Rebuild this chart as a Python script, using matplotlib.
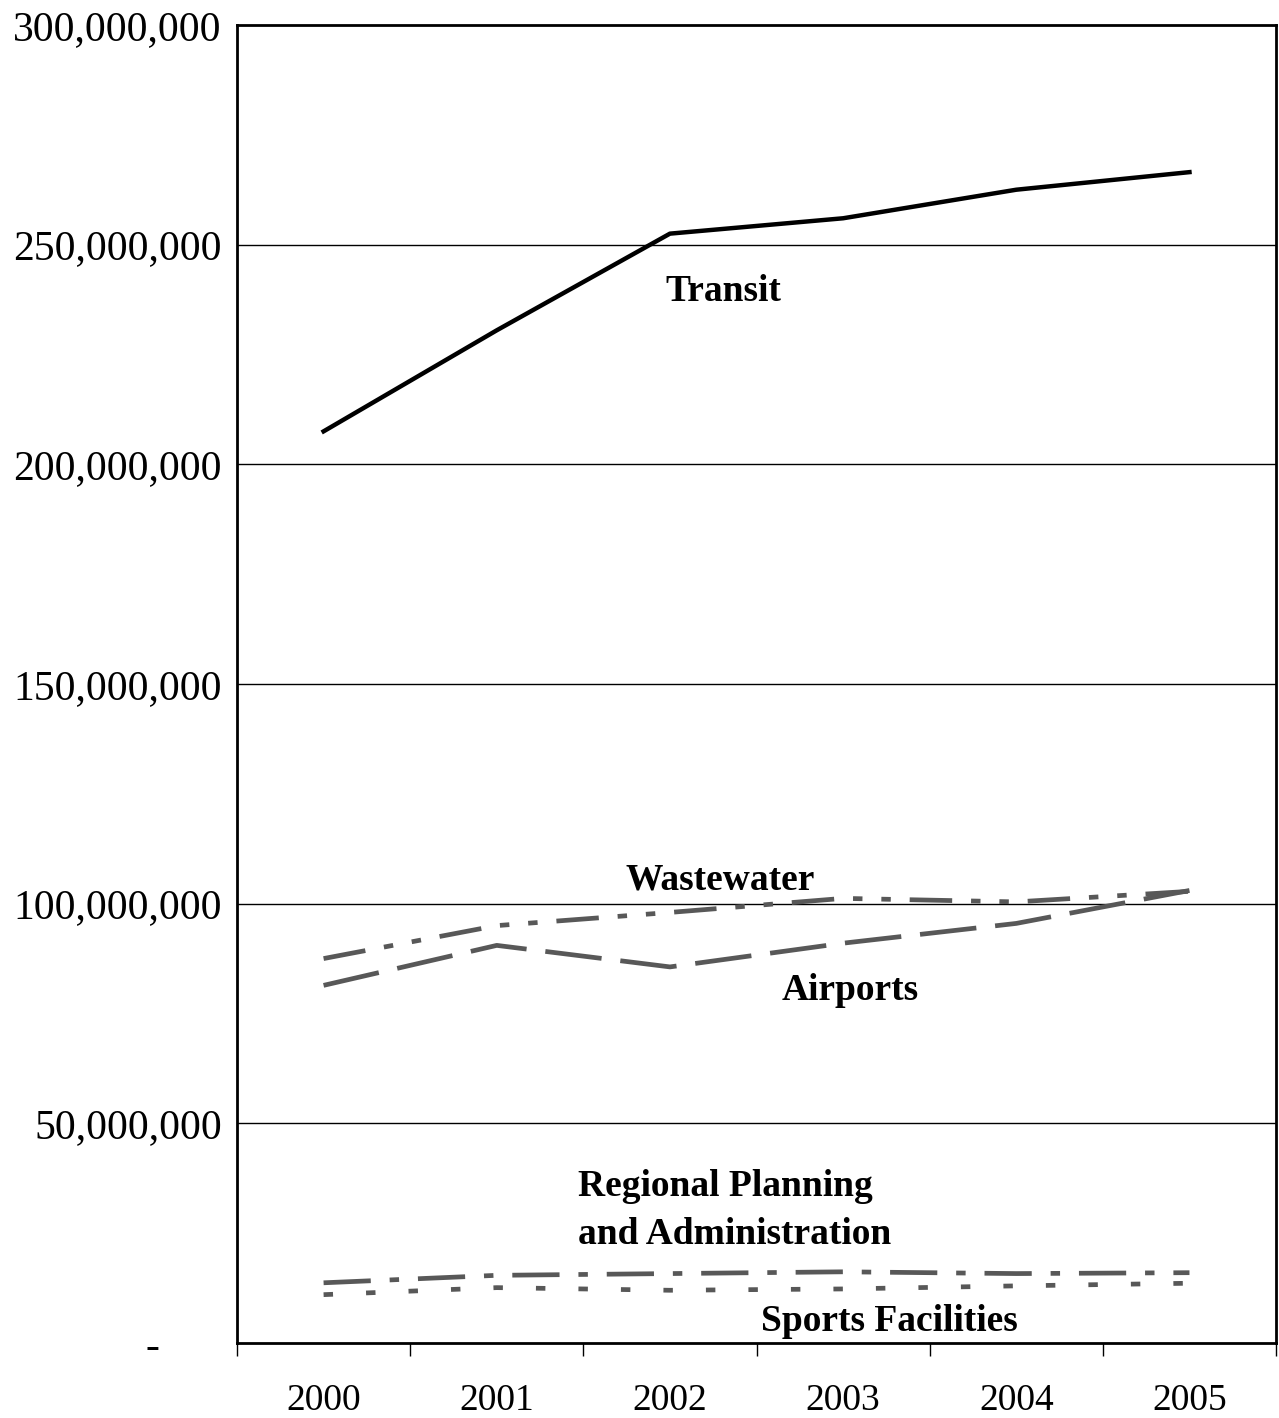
import matplotlib
matplotlib.use("Agg")
import matplotlib.pyplot as plt
from matplotlib.ticker import FixedLocator

years = ["2000", "2001", "2002", "2003", "2004", "2005"]
transit = [207.5e6, 230.5e6, 252.5e6, 256.0e6, 262.5e6, 266.5e6]
wastewater = [87.5e6, 95.0e6, 98.0e6, 101.2e6, 100.4e6, 102.8e6]
airports = [81.4e6, 90.5e6, 85.6e6, 91.0e6, 95.5e6, 103.0e6]
regional = [13.7e6, 15.4e6, 15.8e6, 16.2e6, 15.8e6, 16.0e6]
sports = [11.0e6, 12.6e6, 12.0e6, 12.3e6, 13.0e6, 13.6e6]

y_ticks = [0, 50e6, 100e6, 150e6, 200e6, 250e6, 300e6]
y_labels = ["-      ", "50,000,000", "100,000,000", "150,000,000",
            "200,000,000", "250,000,000", "300,000,000"]

plt.rcParams["font.family"] = ["Liberation Serif", "DejaVu Serif"]

fig = plt.figure(figsize=(12.79, 14.18), dpi=100)
ax = fig.add_axes([0.1853, 0.0529, 0.8124, 0.9295])

x = list(range(len(years)))
gray = "#585858"

ax.plot(x, transit, color="black", lw=3.2, solid_joinstyle="round", zorder=4)
ax.plot(x, wastewater, color=gray, lw=3.4, dashes=(9, 4, 2, 4, 2, 4), zorder=3)
ax.plot(x, airports, color=gray, lw=3.4, dashes=(12, 4), zorder=3)
ax.plot(x, regional, color=gray, lw=3.4, dashes=(10, 4, 2, 4), zorder=3)
ax.plot(x, sports, color=gray, lw=3.4, dashes=(2, 7), zorder=3)

ax.set_xlim(-0.5, 5.5)
ax.set_ylim(0, 300e6)

for v in y_ticks[1:-1]:
    ax.axhline(v, color="black", lw=1.0, zorder=1)

ax.yaxis.set_major_locator(FixedLocator(y_ticks))
ax.set_yticklabels(y_labels)
ax.tick_params(axis="y", length=0, pad=11, labelsize=30)

ax.xaxis.set_major_locator(FixedLocator([i - 0.5 for i in range(len(years) + 1)]))
ax.xaxis.set_minor_locator(FixedLocator(x))
ax.set_xticklabels([], minor=False)
ax.set_xticklabels(years, minor=True)
ax.tick_params(axis="x", which="major", length=9, width=1, direction="out")
ax.tick_params(axis="x", which="minor", length=0, pad=29, labelsize=27)

for s in ax.spines.values():
    s.set_linewidth(2)

label_kw = dict(fontsize=27, fontweight="bold", color="black")
ax.text(2.31, 239.3e6, "Transit", ha="center", va="center", **label_kw)
ax.text(2.29, 105.3e6, "Wastewater", ha="center", va="center", **label_kw)
ax.text(3.04, 80.3e6, "Airports", ha="center", va="center", **label_kw)
ax.text(1.47, 30.2e6, "Regional Planning\nand Administration", ha="left",
        va="center", linespacing=1.5, **label_kw)
ax.text(3.27, 4.8e6, "Sports Facilities", ha="center", va="center", **label_kw)

fig.savefig("out.png", dpi=100)
